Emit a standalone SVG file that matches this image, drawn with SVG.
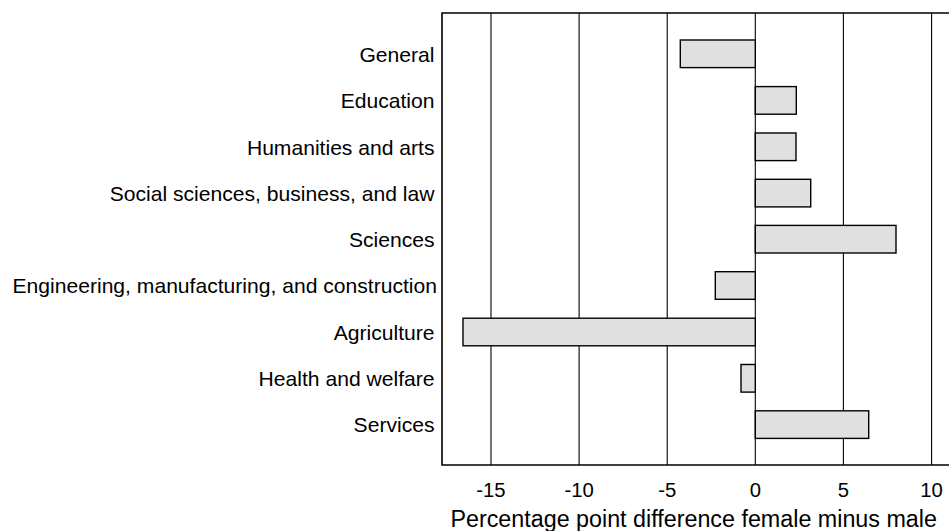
<svg xmlns="http://www.w3.org/2000/svg" width="949" height="531" viewBox="0 0 949 531">
<style>
.lbl{font-family:"Liberation Sans",Arial,sans-serif;font-size:21.1px;fill:#000;text-anchor:end}
.tick{font-family:"Liberation Sans",Arial,sans-serif;font-size:20.3px;fill:#000;text-anchor:middle}
.title{font-family:"Liberation Sans",Arial,sans-serif;font-size:23.3px;fill:#000;text-anchor:middle}
.grid{stroke:#000;stroke-width:1.1}
.bar{fill:#e0e0e0;stroke:#000;stroke-width:1.4}
</style>
<rect width="949" height="531" fill="#fff"/>
<g id="gridlines">
<line class="grid" x1="491" y1="13" x2="491" y2="465"/>
<line class="grid" x1="579.1" y1="13" x2="579.1" y2="465"/>
<line class="grid" x1="667.2" y1="13" x2="667.2" y2="465"/>
<line class="grid" x1="755.3" y1="13" x2="755.3" y2="465"/>
<line class="grid" x1="843.4" y1="13" x2="843.4" y2="465"/>
<line class="grid" x1="931.6" y1="13" x2="931.6" y2="465"/>
</g>
<g id="frame">
<path d="M 980 13 L 442 13 L 442 465 L 980 465" fill="none" stroke="#000" stroke-width="1.6"/>
</g>
<g id="bar-general"><rect class="bar" x="680.3" y="40" width="75" height="27.6"/><text class="lbl" x="434.5" y="61.5">General</text></g>
<g id="bar-education"><rect class="bar" x="755.3" y="86.6" width="41" height="27.6"/><text class="lbl" x="434.5" y="108">Education</text></g>
<g id="bar-humanities"><rect class="bar" x="755.3" y="133" width="40.7" height="27.6"/><text class="lbl" x="434.5" y="154.5">Humanities and arts</text></g>
<g id="bar-social"><rect class="bar" x="755.3" y="179.3" width="55.4" height="27.6"/><text class="lbl" x="434.5" y="200.8">Social sciences, business, and law</text></g>
<g id="bar-sciences"><rect class="bar" x="755.3" y="225.4" width="140.7" height="27.6"/><text class="lbl" x="434.5" y="246.8">Sciences</text></g>
<g id="bar-engineering"><rect class="bar" x="715.3" y="271.7" width="40" height="27.6"/><text class="lbl" x="437" y="293">Engineering, manufacturing, and construction</text></g>
<g id="bar-agriculture"><rect class="bar" x="463" y="318.2" width="292.3" height="27.6"/><text class="lbl" x="434.5" y="339.5">Agriculture</text></g>
<g id="bar-health"><rect class="bar" x="741" y="364.5" width="14.3" height="27.6"/><text class="lbl" x="434.5" y="386">Health and welfare</text></g>
<g id="bar-services"><rect class="bar" x="755.3" y="410.8" width="113.4" height="27.6"/><text class="lbl" x="434.5" y="432.3">Services</text></g>
<g id="axis-labels">
<text class="tick" x="491" y="496.5">-15</text>
<text class="tick" x="579.1" y="496.5">-10</text>
<text class="tick" x="667.2" y="496.5">-5</text>
<text class="tick" x="755.3" y="496.5">0</text>
<text class="tick" x="843.4" y="496.5">5</text>
<text class="tick" x="931.6" y="496.5">10</text>
<text class="title" x="693.7" y="527">Percentage point difference female minus male</text>
</g>
</svg>
